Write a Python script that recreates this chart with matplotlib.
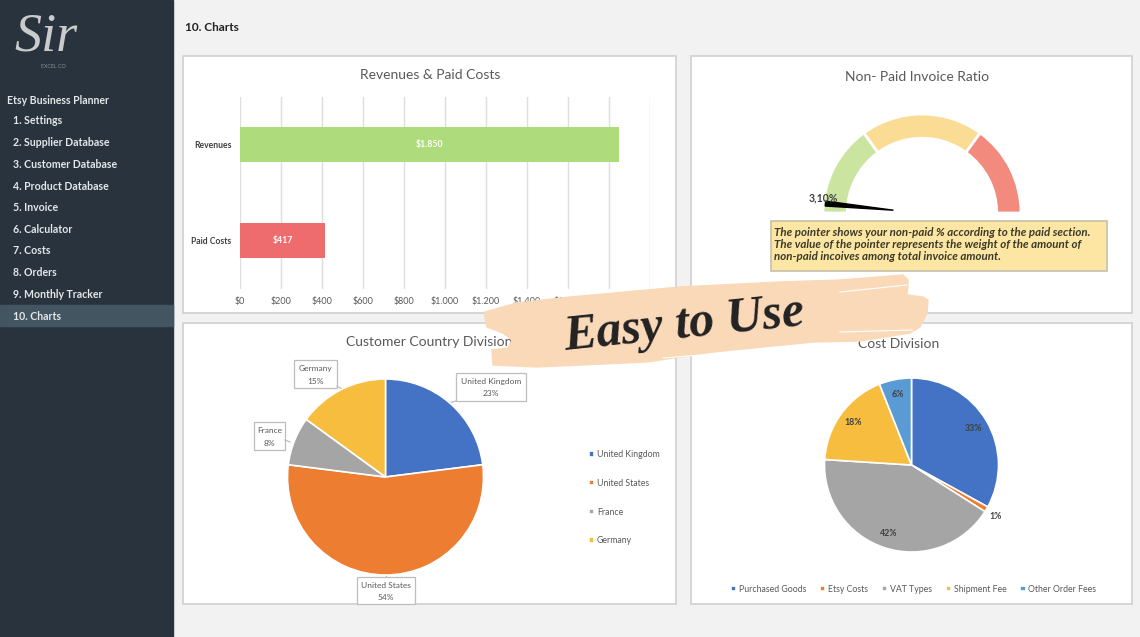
import matplotlib
matplotlib.use('Agg')
import numpy as np
import matplotlib.pyplot as plt
from matplotlib.patches import Rectangle, Polygon

plt.rcParams['font.family'] = ['Lato', 'DejaVu Sans']

# Datos de las graficas
menu_items = ['1. Settings', '2. Supplier Database', '3. Customer Database', '4. Product Database',
              '5. Invoice', '6. Calculator', '7. Costs', '8. Orders', '9. Monthly Tracker', '10. Charts']
bar_names = ['Revenues', 'Paid Costs']
bar_values = [1850, 417]
bar_labels = ['$1.850', '$417']
bar_ticks = [0, 200, 400, 600, 800, 1000, 1200, 1400, 1600, 1800, 2000]
bar_tick_labels = ['$0', '$200', '$400', '$600', '$800', '$1.000', '$1.200', '$1.400', '$1.600', '$1.800', '$2.000']
gauge_sections = [30, 40, 30]
pointer_pct = 3.10
country_names = ['United Kingdom', 'United States', 'France', 'Germany']
country_values = [23, 54, 8, 15]
cost_names = ['Purchased Goods', 'Etsy Costs', 'VAT Types', 'Shipment Fee', 'Other Order Fees']
cost_values = [33, 1, 42, 18, 6]

W, H = 1140, 637
GREY = '#595959'
colors_pie = ['#4472c4', '#ed7d31', '#a5a5a5', '#f7bd3f', '#5b9bd5']


def px_axes(x0, y0, x1, y1, **kw):
    # ejes a partir de pixeles de la imagen (origen arriba a la izquierda)
    return fig.add_axes([x0 / W, 1 - y1 / H, (x1 - x0) / W, (y1 - y0) / H], **kw)


def pie_axes(cx, cy, r):
    a = px_axes(cx - r, cy - r, cx + r, cy + r)
    a.set_facecolor('none')
    return a


fig = plt.figure(figsize=(W / 100, H / 100), dpi=100, facecolor='#f2f2f2')

# Fondo: barra lateral y paneles
bg = px_axes(0, 0, W, H)
bg.set_xlim(0, W)
bg.set_ylim(H, 0)
bg.axis('off')
bg.add_patch(Rectangle((0, 0), 173, H, color='#29333d'))
bg.add_patch(Rectangle((0, 305), 173, 21, color='#435561'))
for x0, y0, x1, y1 in [(183, 56, 676, 313), (691, 56, 1132, 313), (183, 323, 676, 604), (691, 323, 1132, 604)]:
    bg.add_patch(Rectangle((x0, y0), x1 - x0, y1 - y0, fc='white', ec='#d0d0d0', lw=1.2))

bg.text(14, 37, 'Sir', family='Liberation Serif', style='italic', fontsize=39, color='#c9cbcc', va='center')
bg.text(41, 67, 'EXCEL CO', fontsize=3.8, color='#8a9096', va='center')
bg.text(7, 101, 'Etsy Business Planner', fontsize=7.6, fontweight='bold', color='#e4e6e8', va='center')
menu_y = [121, 143, 164.5, 186, 207.5, 229.5, 251, 272.5, 294.5, 316]
for name, y in zip(menu_items, menu_y):
    bg.text(13, y, name, fontsize=7.6, fontweight='bold', color='#e4e6e8', va='center')
bg.text(185, 27.5, '10. Charts', fontsize=8.5, fontweight='bold', color='#222222', va='center')

bg.text(430, 75, 'Revenues & Paid Costs', fontsize=10, color=GREY, ha='center', va='center')
bg.text(917, 77, 'Non- Paid Invoice Ratio', fontsize=10, color=GREY, ha='center', va='center')
bg.text(429, 342, 'Customer Country Division', fontsize=10, color=GREY, ha='center', va='center')
bg.text(899, 344.5, 'Cost Division', fontsize=10, color=GREY, ha='center', va='center')

# Barras
ax1 = px_axes(240, 96.5, 650, 288.5)
ax1.set_facecolor('none')
ax1.barh(bar_names, bar_values, height=0.365, color=['#aedc7c', '#ee6b6e'], zorder=3)
ax1.set_xlim(0, 2000)
ax1.set_ylim(1.5, -0.5)
ax1.set_xticks(bar_ticks, bar_tick_labels)
ax1.grid(axis='x', color='#dedede', lw=1.0, zorder=0)
ax1.tick_params(axis='both', length=0)
ax1.tick_params(axis='x', labelsize=6.5, labelcolor=GREY, pad=6)
ax1.tick_params(axis='y', labelsize=6.2, labelcolor='#404040', pad=6)
for lab in ax1.get_yticklabels():
    lab.set_fontweight('bold')
for s in ax1.spines.values():
    s.set_visible(False)
for i, v in enumerate(bar_values):
    ax1.text(v / 2, i, bar_labels[i], color='white', fontsize=6.3, fontweight='bold', ha='center', va='center', zorder=4)

# Cuadro de nota
bg.add_patch(Rectangle((771, 221), 336, 50, fc='#fde6a3', ec='#c4c0aa', lw=1.2, zorder=4))
note_lines = ['The pointer shows your non-paid % according to the paid section.',
              'The value of the pointer represents the weight of the amount of',
              'non-paid incoives among total invoice amount.']
for txt, y in zip(note_lines, [232.5, 244.5, 257]):
    bg.text(774, y, txt, fontsize=8.3, style='italic', fontweight='bold', color='#3a3a2a', va='center', zorder=5)

# Indicador (dona de media vuelta)
ax2 = pie_axes(922, 213, 99)
w2, _ = ax2.pie(gauge_sections + [sum(gauge_sections)], colors=['#cbe5a0', '#fbdc95', '#f28a7d', 'none'],
                startangle=180, counterclock=False, radius=1,
                wedgeprops=dict(width=0.245, edgecolor='white', linewidth=2))
w2[3].set_visible(False)
ax2.set_xlim(-1, 1)
ax2.set_ylim(-1, 1)
ang = np.pi * (1 - pointer_pct / 100)
u = np.array([np.cos(ang), np.sin(ang)])
n = np.array([-u[1], u[0]])
ax2.add_patch(Polygon([u * 0.98 + n * 0.025, u * 0.98 - n * 0.025, u * 0.29], color='black', clip_on=False))
ax2.text(-1.0, 0.15, f'{pointer_pct:.2f}%'.replace('.', ','), fontsize=7.6, fontweight='bold', color='#404040',
         ha='center', va='center')

# Pastel de paises
ax3 = pie_axes(385.5, 477, 98)
w3, _ = ax3.pie(country_values, colors=colors_pie[:4], startangle=90, counterclock=False, radius=1,
                wedgeprops=dict(edgecolor='white', linewidth=1.2))
ax3.set_xlim(-1, 1)
ax3.set_ylim(-1, 1)
boxes = [(456, 373, 526, 401), (357, 577, 415, 604), (254, 422, 285, 450), (294, 360, 337, 388)]
leaders = [[(456, 401), (448, 403)], [(386, 577), (386, 575)], [(285, 440), (290, 442)], [(337, 386), (342, 389)]]
for name, val, b, ld in zip(country_names, country_values, boxes, leaders):
    bg.add_patch(Rectangle((b[0], b[1]), b[2] - b[0], b[3] - b[1], fc='white', ec='#bdbdbd', lw=0.9))
    bg.plot(*zip(*ld), color='#bdbdbd', lw=0.9)
    bg.text((b[0] + b[2]) / 2, b[1] + 8.5, name, fontsize=6, color=GREY, ha='center', va='center')
    bg.text((b[0] + b[2]) / 2, b[1] + 21, f'{val}%', fontsize=6, color=GREY, ha='center', va='center')
bg.set_xlim(0, W)
bg.set_ylim(H, 0)
fig.legend(w3, country_names, loc='upper left', bbox_to_anchor=(589 / W, 1 - 450 / H), frameon=False,
           fontsize=6.3, labelcolor=GREY, handlelength=0.6, handleheight=0.6, handletextpad=0.3,
           labelspacing=2.26, borderpad=0, borderaxespad=0)

# Pastel de costos
ax4 = pie_axes(911.5, 465, 87)
w4, _, pct4 = ax4.pie(cost_values, colors=colors_pie, startangle=90, counterclock=False, radius=1,
                      autopct='%.0f%%', pctdistance=0.83,
                      wedgeprops=dict(edgecolor='white', linewidth=1.2),
                      textprops=dict(fontsize=6.3, fontweight='bold', color='#404040'))
ax4.set_xlim(-1, 1)
ax4.set_ylim(-1, 1)
pct4[1].set_position((0.97, -0.59))
fig.legend(w4, cost_names, loc='center', bbox_to_anchor=(913.5 / W, 1 - 589 / H), ncol=5, frameon=False,
           fontsize=6.3, labelcolor=GREY, handlelength=0.6, handleheight=0.6, handletextpad=0.3,
           columnspacing=1.6, borderpad=0, borderaxespad=0)

# Brochazo "Easy to Use" por encima de todo
fg = px_axes(0, 0, W, H)
fg.set_facecolor('none')
fg.set_xlim(0, W)
fg.set_ylim(H, 0)
fg.axis('off')
brush = [(485, 312), (517, 303), (570, 297), (680, 287), (780, 282), (840, 280), (903, 275), (908, 280),
         (908, 285), (907, 295), (923, 297), (928, 300), (927, 313), (920, 327), (910, 333), (860, 341),
         (813, 342), (713, 352), (647, 362), (537, 367), (493, 365), (492, 350), (508, 348), (512, 340),
         (503, 333), (487, 327), (485, 318)]
fg.add_patch(Polygon(brush, color='#fad9b9'))
for xs, ys in [((840, 907), (292, 285)), ((840, 912), (332, 330)), ((663, 763), (358, 350))]:
    fg.plot(xs, ys, color='white', lw=0.8)
fg.text(684, 325, 'Easy to Use', family='Liberation Serif', style='italic', fontweight='bold', fontsize=36,
        color='#222222', ha='center', va='center', rotation=6)

fig.savefig('out.png', dpi=100, facecolor=fig.get_facecolor())
